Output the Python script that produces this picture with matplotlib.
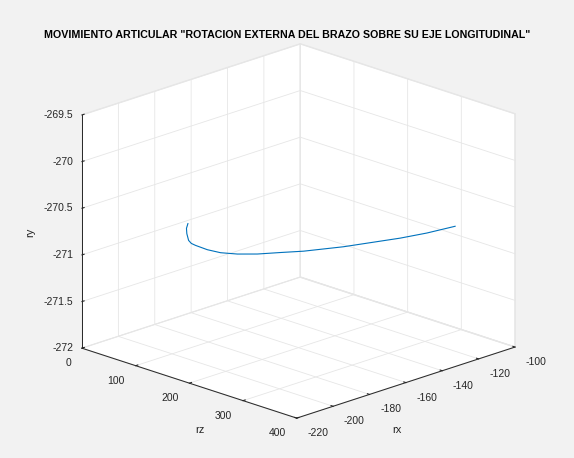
import matplotlib
matplotlib.use('Agg')
import matplotlib.pyplot as plt

# ---- data ----
rz = [89.2, 101.4, 117.0, 137.9, 149.1, 158.6, 181.9, 202.9, 222.4, 240.9,
      258.3, 275.8, 300.3, 315.2, 328.5, 338.7, 345.7]
rx = [-188.1, -192.5, -196.9, -202.1, -203.9, -204.4, -204.8, -203.7, -200.2,
      -194.7, -187.0, -179.6, -164.9, -152.8, -142.0, -130.4, -116.9]
ry = [-270.70, -270.70, -270.70, -270.70, -270.70, -270.70, -270.70, -270.70,
      -270.70, -270.70, -270.70, -270.70, -270.70, -270.70, -270.70, -270.70,
      -270.70]

rz_ticks = [0, 100, 200, 300, 400]
rx_ticks = [-220, -200, -180, -160, -140, -120, -100]
ry_ticks = [-272, -271.5, -271, -270.5, -270, -269.5]
ry_tick_labels = ['-272', '-271.5', '-271', '-270.5', '-270', '-269.5']
title = 'MOVIMIENTO ARTICULAR "ROTACION EXTERNA DEL BRAZO SOBRE SU EJE LONGITUDINAL"'

plt.rcParams['font.family'] = ['Liberation Sans', 'DejaVu Sans']
plt.rcParams['axes.unicode_minus'] = False
plt.rcParams['grid.color'] = '#e6e6e6'
plt.rcParams['grid.linewidth'] = 0.6
plt.rcParams['axes.edgecolor'] = '#262626'
plt.rcParams['axes.linewidth'] = 0.7

W, H = 574, 458
fig = plt.figure(figsize=(W / 100, H / 100), dpi=100, facecolor='#f2f2f2')
side = 458
left = 298.5 - 0.5135 * side
bottom = 227 - 0.5135 * side
ax = fig.add_axes([left / W, bottom / H, side / W, side / H], projection='3d')
ax.set_facecolor('none')
ax.set_proj_type('ortho')
ax.view_init(elev=19, azim=-45)
ax.set_box_aspect((304, 309, 247), zoom=483.8 / side)

ax.plot(rz, rx, ry, color='#0072BD', lw=0.8)

ax.set_xlim(0, 400, view_margin=0)
ax.set_ylim(-220, -100, view_margin=0)
ax.set_zlim(-272, -269.5, view_margin=0)
ax.set_xticks(rz_ticks)
ax.set_yticks(rx_ticks)
ax.set_zticks(ry_ticks)
ax.set_zticklabels(ry_tick_labels)

for axis in (ax.xaxis, ax.yaxis, ax.zaxis):
    axis.set_pane_color((1, 1, 1, 1))
    axis.pane.set_edgecolor('#e6e6e6')
    axis.line.set_color('#262626')
    axis.line.set_linewidth(0.7)
    axis._axinfo['tick']['inward_factor'] = 0.0
    axis._axinfo['tick']['outward_factor'] = 0.12

ax.tick_params(labelsize=7.5, colors='#262626')
ax.xaxis.set_tick_params(pad=0.5)
ax.yaxis.set_tick_params(pad=0.5)
ax.zaxis.set_tick_params(pad=-4.5)

# put the vertical (ry) axis on the left edge, as in the reference
ax.zaxis.set_ticks_position('lower')
fig.canvas.draw()
if ax.zaxis.get_ticklabels()[0].get_window_extent().x0 > W / 2:
    ax.zaxis.set_ticks_position('upper')
    fig.canvas.draw()

for lbl in ax.xaxis.get_ticklabels():
    lbl.set_ha('right')
    lbl.set_va('center')
for lbl in ax.yaxis.get_ticklabels():
    lbl.set_ha('left')
    lbl.set_va('center')
for lbl in ax.zaxis.get_ticklabels():
    lbl.set_ha('right')
    lbl.set_va('center')

# axis names placed like the reference
fig.text(200 / W, 1 - 430 / H, 'rz', ha='center', va='center', fontsize=8, color='#262626')
fig.text(397 / W, 1 - 430 / H, 'rx', ha='center', va='center', fontsize=8, color='#262626')
fig.text(30 / W, 1 - 232 / H, 'ry', ha='center', va='center', fontsize=8, color='#262626',
         rotation=90)

fig.text(287 / W, 1 - 35 / H, title, ha='center', va='center',
         fontsize=7.65, fontweight='bold', color='black')

fig.savefig('out.png', dpi=100, facecolor=fig.get_facecolor())
